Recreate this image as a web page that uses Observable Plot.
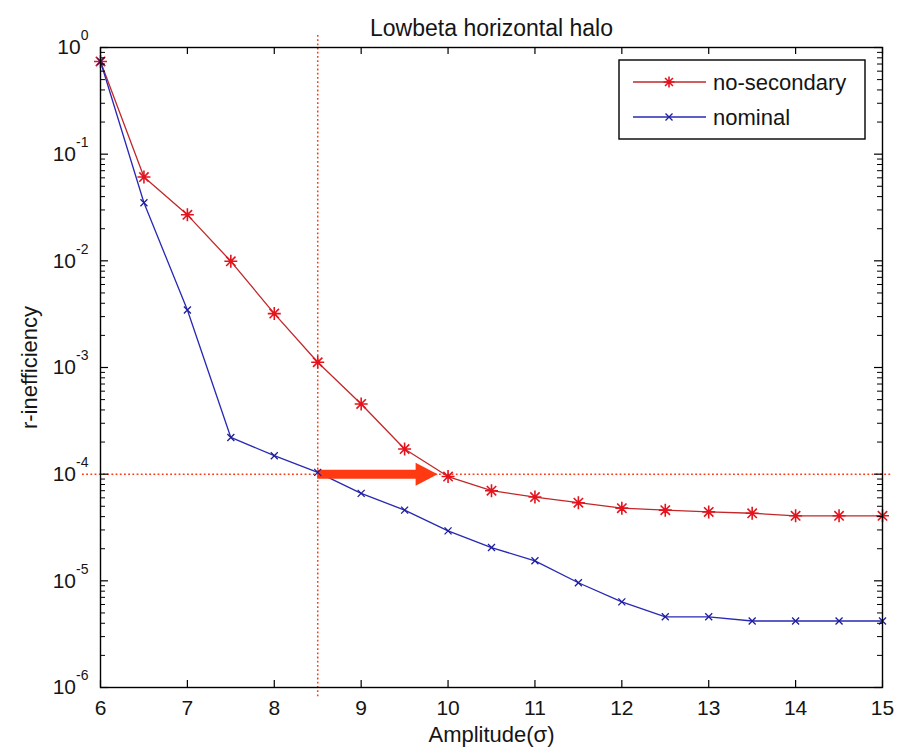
<!DOCTYPE html>
<html>
<head>
<meta charset="utf-8">
<script src="https://cdn.jsdelivr.net/npm/d3@7"></script>
<script src="https://cdn.jsdelivr.net/npm/@observablehq/plot@0.6"></script>
<style>
  html, body { margin: 0; padding: 0; background: white; }
  #chart { width: 901px; height: 756px; }
</style>
</head>
<body>
<div id="chart"></div>
<script>
// ---- data ----
const amplitude = [6, 6.5, 7, 7.5, 8, 8.5, 9, 9.5, 10, 10.5, 11, 11.5, 12, 12.5, 13, 13.5, 14, 14.5, 15];
const noSecondary = [0.74, 0.061, 0.027, 0.0099, 0.0032, 0.00112, 0.000455, 0.000172, 9.5e-5, 7.0e-5, 6.1e-5, 5.4e-5, 4.8e-5, 4.6e-5, 4.43e-5, 4.3e-5, 4.07e-5, 4.07e-5, 4.07e-5];
const nominal = [0.74, 0.035, 0.00346, 0.000221, 0.000149, 0.000104, 6.6e-5, 4.6e-5, 2.94e-5, 2.05e-5, 1.54e-5, 9.6e-6, 6.35e-6, 4.6e-6, 4.6e-6, 4.2e-6, 4.2e-6, 4.2e-6, 4.2e-6];
const seriesNames = ["no-secondary", "nominal"];
const xTicks = [6, 7, 8, 9, 10, 11, 12, 13, 14, 15];
const yTicks = [1, 1e-1, 1e-2, 1e-3, 1e-4, 1e-5, 1e-6];
const refX = 8.5;
const refY = 1e-4;
const arrowFrom = 8.5;
const arrowTip = 9.88;
const titleText = "Lowbeta horizontal halo";
const xLabel = "Amplitude(σ)";
const yLabel = "r-inefficiency";

// ---- build ----
const redLine = "#c0282a", redMark = "#e4141e";
const blueLine = "#2828b4", blueMark = "#1e1e9c";
const refColor = "#ff3a12";

const yMinor = yTicks.slice(1).flatMap(d => [2,3,4,5,6,7,8,9].map(k => k * d));

const rows = [
  ...amplitude.map((a, i) => ({x: a, y: noSecondary[i], s: seriesNames[0]})),
  ...amplitude.map((a, i) => ({x: a, y: nominal[i], s: seriesNames[1]}))
];
const red = rows.filter(d => d.s === seriesNames[0]);
const blue = rows.filter(d => d.s === seriesNames[1]);

const asterisk = {
  draw(ctx, size) {
    const r = Math.sqrt(size / Math.PI);
    const q = r * 0.72;
    ctx.moveTo(-r, 0); ctx.lineTo(r, 0);
    ctx.moveTo(0, -r); ctx.lineTo(0, r);
    ctx.moveTo(-q, -q); ctx.lineTo(q, q);
    ctx.moveTo(-q, q); ctx.lineTo(q, -q);
  }
};
const cross = {
  draw(ctx, size) {
    const r = Math.sqrt(size / Math.PI);
    ctx.moveTo(-r, -r); ctx.lineTo(r, r);
    ctx.moveTo(-r, r); ctx.lineTo(r, -r);
  }
};
const arrowHead = {
  draw(ctx, size) {
    ctx.moveTo(0, 0); ctx.lineTo(-22, -11.5); ctx.lineTo(-22, 11.5); ctx.closePath();
  }
};

const W = 901, H = 756, mL = 100, mR = 19, mT = 47, mB = 69;
const FW = W - mL - mR, FH = H - mT - mB;

const plot = Plot.plot({
  width: W, height: H,
  marginLeft: mL, marginRight: mR, marginTop: mT, marginBottom: mB,
  x: {domain: [6, 15]},
  y: {type: "log", domain: [1e-6, 1]},
  style: {fontFamily: "'Liberation Sans', Arial, sans-serif", fontSize: "21px", color: "#151515", background: "white"},
  marks: [
    // reference dotted lines
    Plot.ruleX([refX], {x: d => d, stroke: refColor, strokeWidth: 1.5, strokeDasharray: "1.8,2.4", insetTop: -12, insetBottom: -10}),
    Plot.ruleY([refY], {y: d => d, stroke: refColor, strokeWidth: 1.5, strokeDasharray: "1.8,2.4", insetLeft: -18, insetRight: -10}),
    // series lines
    Plot.line(red, {x: "x", y: "y", stroke: redLine, strokeWidth: 1.3}),
    Plot.line(blue, {x: "x", y: "y", stroke: blueLine, strokeWidth: 1.3}),
    // arrow
    Plot.ruleY([refY], {y: d => d, x1: arrowFrom, x2: arrowTip, insetRight: 20, stroke: refColor, strokeWidth: 9}),
    Plot.dot([refY], {x: arrowTip, y: d => d, symbol: arrowHead, r: 5, fill: refColor, stroke: "none"}),
    // markers
    Plot.dot(red, {x: "x", y: "y", symbol: asterisk, r: 6.5, stroke: redMark, strokeWidth: 1.6, fill: "none"}),
    Plot.dot(blue, {x: "x", y: "y", symbol: cross, r: 3.5, stroke: blueMark, strokeWidth: 1.3, fill: "none"}),
    // inward ticks
    Plot.ruleY(yTicks, {y: d => d, insetRight: FW - 8, stroke: "black", strokeWidth: 1.2}),
    Plot.ruleY(yTicks, {y: d => d, insetLeft: FW - 8, stroke: "black", strokeWidth: 1.2}),
    Plot.ruleY(yMinor, {y: d => d, insetRight: FW - 5, stroke: "black", strokeWidth: 1}),
    Plot.ruleY(yMinor, {y: d => d, insetLeft: FW - 5, stroke: "black", strokeWidth: 1}),
    Plot.ruleX(xTicks, {x: d => d, insetTop: FH - 7, stroke: "black", strokeWidth: 1.2}),
    Plot.ruleX(xTicks, {x: d => d, insetBottom: FH - 7, stroke: "black", strokeWidth: 1.2}),
    Plot.frame({stroke: "black", strokeWidth: 1.4}),
    // axes
    Plot.axisX({ticks: xTicks, tickSize: 0, tickPadding: 13, fontSize: 21, label: null}),
    Plot.axisY({ticks: yTicks, tickSize: 0, tickPadding: 12, fontSize: 21, label: null,
      tickFormat: d => "10^" + Math.round(Math.log10(d))}),
    // title and labels
    Plot.text([titleText], {text: d => d, frameAnchor: "top", dy: -28, fontSize: 23, textAnchor: "middle"}),
    Plot.text([xLabel], {text: d => d, frameAnchor: "bottom", dy: 54, fontSize: 22, textAnchor: "middle"}),
    Plot.text([yLabel], {text: d => d, frameAnchor: "left", dx: -71, rotate: -90, fontSize: 22, textAnchor: "middle"})
  ]
});

// superscript exponents for y tick labels
plot.querySelectorAll('[aria-label="y-axis tick label"] text').forEach(t => {
  const s = t.textContent;
  const i = s.indexOf("^");
  if (i < 0) return;
  const base = s.slice(0, i), ex = s.slice(i + 1);
  t.textContent = base;
  const ts = document.createElementNS("http://www.w3.org/2000/svg", "tspan");
  ts.setAttribute("dy", "-14");
  ts.setAttribute("font-size", "14");
  ts.textContent = ex;
  t.appendChild(ts);
});

// legend
const svg = d3.select(plot);
const lg = svg.append("g").attr("transform", "translate(619,60)")
  .attr("font-family", "'Liberation Sans', Arial, sans-serif").attr("font-size", 22)
  .attr("text-anchor", "start");
lg.append("rect").attr("width", 246).attr("height", 79).attr("fill", "white").attr("stroke", "black").attr("stroke-width", 1.4);
const entries = [
  {name: seriesNames[0], line: redLine, mark: redMark, sym: asterisk, r: 5.5, sw: 1.6, y: 22},
  {name: seriesNames[1], line: blueLine, mark: blueMark, sym: cross, r: 3.5, sw: 1.3, y: 57}
];
entries.forEach(e => {
  lg.append("line").attr("x1", 14).attr("x2", 87).attr("y1", e.y).attr("y2", e.y).attr("stroke", e.line).attr("stroke-width", 1.3);
  const p = d3.path();
  e.sym.draw(p, e.r * e.r * Math.PI);
  lg.append("path").attr("d", p.toString()).attr("transform", `translate(50,${e.y})`).attr("stroke", e.mark).attr("stroke-width", e.sw).attr("fill", "none");
  lg.append("text").attr("x", 94).attr("y", e.y).attr("dy", "0.35em").attr("text-anchor", "start").attr("fill", "#151515").text(e.name);
});

document.getElementById("chart").appendChild(plot);
</script>
</body>
</html>
